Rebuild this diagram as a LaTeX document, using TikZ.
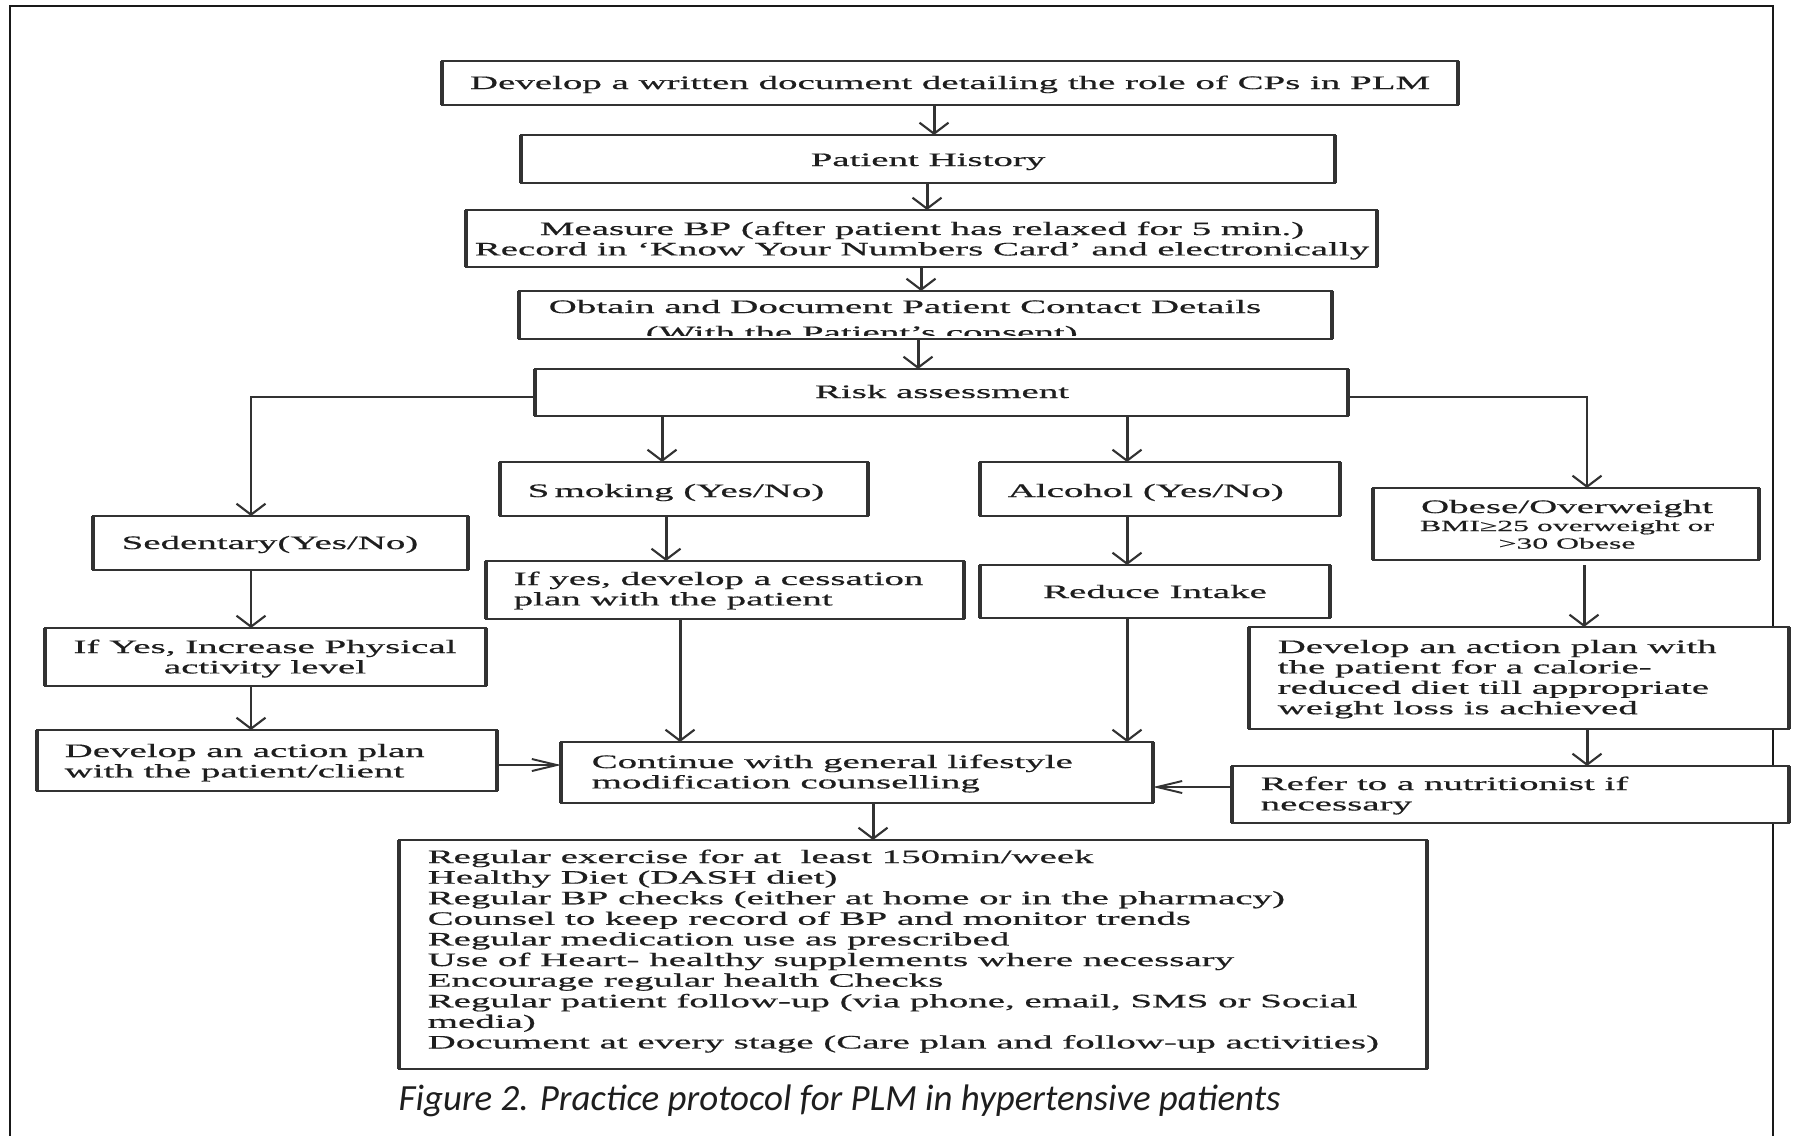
\documentclass[tikz,border=0pt]{standalone}
\usepackage{fontspec}
\usetikzlibrary{arrows.meta,fit}
\newfontfamily\bxfam[FakeStretch=2.05,FakeBold=0.6]{Liberation Serif}
\newfontfamily\capfam{Carlito}
\definecolor{lc}{RGB}{50,50,50}
\definecolor{tc}{RGB}{30,30,30}
\tikzset{
  bx/.style={draw=lc, line width=0.55pt, fill=white, inner sep=0pt, outer sep=0pt},
  vedge/.style={draw=lc, line width=1pt},
  tx/.style={inner sep=0pt, text=tc, font=\bxfam\fontsize{5.4pt}{5.8pt}\selectfont},
  txs/.style={inner sep=0pt, text=tc, font=\bxfam\fontsize{4.4pt}{4.6pt}\selectfont},
  va/.style={draw=lc, line width=0.85pt, -{Straight Barb[length=0.11cm,width=0.29cm,line width=0.6pt]}},
  ha/.style={draw=lc, line width=0.55pt, -{Straight Barb[length=0.25cm,width=0.12cm]}},
  ba/.style={draw=lc, line width=0.7pt, -{Straight Barb[length=0.11cm,width=0.29cm,line width=0.6pt]}},
}
\begin{document}
\begin{tikzpicture}[x=0.01cm,y=-0.01cm]
\useasboundingbox (0,0) rectangle (1795,1135);
\clip (0,0) rectangle (1795,1135);
\fill[white] (0,0) rectangle (1795,1135);
\draw[line width=0.8pt, black!90] (10,6) rectangle (1773,1250);

% boxes
\node[bx, fit={(442,61) (1458,105)}] (b1) {};
\node[bx, fit={(521,135) (1335,183)}] (b2) {};
\node[bx, fit={(466,210) (1377,267)}] (b3) {};
\node[bx, draw=none, fit={(519,291) (1332,339)}] (b4) {};
\node[bx, fit={(535,369) (1348,416)}] (b5) {};
\node[bx, fit={(93,516) (468,570)}] (sed) {};
\node[bx, fit={(500,462) (868,516)}] (smk) {};
\node[bx, fit={(486,561) (964,619)}] (ces) {};
\node[bx, fit={(980,462) (1340,516)}] (alc) {};
\node[bx, fit={(980,565) (1330,618)}] (red) {};
\node[bx, fit={(1373,488) (1759,560)}] (obe) {};
\node[bx, fit={(1249,627) (1789,729)}] (act) {};
\node[bx, fit={(1232,766) (1789,823)}] (ref) {};
\node[bx, fit={(561,742) (1153,803)}] (con) {};
\node[bx, fit={(45,628) (486,686)}] (inc) {};
\node[bx, fit={(37,730) (497,791)}] (dev) {};
\node[bx, fit={(399,840) (1427,1069)}] (lst) {};

% texts
\node[tx, anchor=base] (t1) at (950,89) {Develop a written document detailing the role of CPs in PLM};
\node[tx, anchor=base] (t2) at (928,166) {Patient History};
\node[tx, anchor=base] (t3) at (922,235) {\parbox[t]{12cm}{\centering Measure BP (after patient has relaxed for 5 min.)\\Record in ‘Know Your Numbers Card’ and electronically}};
\node[tx, anchor=base west] (t4a) at (548,313) {Obtain and Document Patient Contact Details};
\begin{scope}
  \clip (521,293) rectangle (1330,335);
  \node[tx, anchor=base west] (t4b) at (645,339) {(With the Patient’s consent)};
\end{scope}
\draw[draw=lc, line width=0.55pt] (b4.south west) rectangle (b4.north east);
\node[tx, anchor=base] (t5) at (942,398) {Risk assessment};
\node[tx, anchor=base west] (tsed) at (121,549) {Sedentary(Yes/No)};
\node[tx, anchor=base west] (tsmk) at (527,497) {S\kern1.5pt moking (Yes/No)};
\node[tx, anchor=base west] (tces) at (513,585) {\parbox[t]{6cm}{\raggedright If yes, develop a cessation\\plan with the patient}};
\node[tx, anchor=base west] (talc) at (1007,497) {Alcohol (Yes/No)};
\node[tx, anchor=base] (tred) at (1155,598) {Reduce Intake};
\node[tx, anchor=base] (tobe1) at (1567,513) {Obese/Overweight};
\node[txs, anchor=base] (tobe2) at (1567,531) {\parbox[t]{4cm}{\centering BMI≥25 overweight or\\[0.4pt]>30 Obese}};
\node[tx, anchor=base west] (tact) at (1277,653) {\parbox[t]{6cm}{\raggedright Develop an action plan with\\the patient for a calorie-\\reduced diet till appropriate\\weight loss is achieved}};
\node[tx, anchor=base west] (tref) at (1260,790) {\parbox[t]{6cm}{\raggedright Refer to a nutritionist if\\necessary}};
\node[tx, anchor=base west] (tcon) at (591,768) {\parbox[t]{6cm}{\raggedright Continue with general lifestyle\\modification counselling}};
\node[tx, anchor=base] (tinc) at (265,653) {\parbox[t]{5cm}{\centering If Yes, Increase Physical\\activity level}};
\node[tx, anchor=base west] (tdev) at (64,757) {\parbox[t]{5cm}{\raggedright Develop an action plan\\with the patient/client}};
\node[tx, anchor=base west, font=\bxfam\fontsize{5.4pt}{5.86pt}\selectfont] (tlst) at (427,863) {\parbox[t]{12cm}{\raggedright
Regular exercise for at\ \ least 150min/week\\
Healthy Diet (DASH diet)\\
Regular BP checks (either at home or in the pharmacy)\\
Counsel to keep record of BP and monitor trends\\
Regular medication use as prescribed\\
Use of Heart- healthy supplements where necessary\\
Encourage regular health Checks\\
Regular patient follow-up (via phone, email, SMS or Social\\
media)\\
Document at every stage (Care plan and follow-up activities)}};
\node[inner sep=0pt, anchor=base west, text=tc, font=\capfam\itshape\fontsize{10.5pt}{12pt}\selectfont] (cap) at (398,1110) {Figure 2. Practice protocol for PLM in hypertensive patients};

% thicker vertical box edges (as in the horizontally stretched original)
\foreach \n in {b1,b2,b3,b4,b5,sed,smk,ces,alc,red,obe,act,ref,con,inc,dev,lst}
  \draw[vedge] (\n.north west) -- (\n.south west) (\n.north east) -- (\n.south east);

% connectors
\draw[va] (b1.south -| 934,0) -- (b2.north -| 934,0);
\draw[va] (b2.south -| 927,0) -- (b3.north -| 927,0);
\draw[va] (b3.south -| 921,0) -- (b4.north -| 921,0);
\draw[va] (b4.south -| 918,0) -- (b5.north -| 918,0);
\draw[ba] (b5.west |- 0,397) -| (sed.north -| 251,0);
\draw[va] (b5.south -| 662,0) -- (smk.north -| 662,0);
\draw[va] (smk.south -| 666,0) -- (ces.north -| 666,0);
\draw[va] (ces.south -| 680,0) -- (con.north -| 680,0);
\draw[va] (b5.south -| 1127,0) -- (alc.north -| 1127,0);
\draw[va] (alc.south -| 1127,0) -- (red.north -| 1127,0);
\draw[va] (red.south -| 1127,0) -- (con.north -| 1127,0);
\draw[ba] (b5.east |- 0,397) -| (obe.north -| 1587,0);
\draw[va, shorten <=0.05cm] (obe.south -| 1584,0) -- (act.north -| 1584,0);
\draw[va] (act.south -| 1587,0) -- (ref.north -| 1587,0);
\draw[ha] (ref.west |- 0,787) -- (con.east |- 0,787);
\draw[va] (sed.south -| 251,0) -- (inc.north -| 251,0);
\draw[va] (inc.south -| 251,0) -- (dev.north -| 251,0);
\draw[ha] (dev.east |- 0,765) -- (con.west |- 0,765);
\draw[va] (con.south -| 873,0) -- (lst.north -| 873,0);
\end{tikzpicture}
\end{document}
